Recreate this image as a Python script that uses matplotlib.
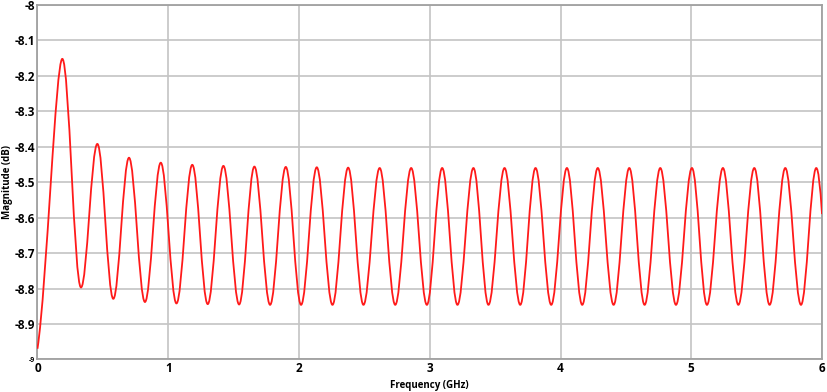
import matplotlib
matplotlib.use("Agg")
import matplotlib.pyplot as plt
from matplotlib.path import Path
from matplotlib.patches import PathPatch

plt.rcParams["font.family"] = ["Open Sans", "DejaVu Sans"]

# values (GHz, dB)
start_point = (0.0, -8.97)
end_point = (6.0, -8.59)

peak_freq = [0.190, 0.458, 0.700, 0.943, 1.184, 1.422, 1.659, 1.899, 2.136, 2.376,
             2.617, 2.858, 3.095, 3.334, 3.572, 3.809, 4.049, 4.285, 4.526, 4.763,
             5.005, 5.242, 5.482, 5.719, 5.956]
peak_db = [-8.152, -8.392, -8.431, -8.445, -8.451, -8.454, -8.456, -8.457, -8.458, -8.459,
           -8.460, -8.460, -8.460, -8.460, -8.460, -8.460, -8.460, -8.460, -8.460, -8.460,
           -8.460, -8.460, -8.460, -8.460, -8.460]

trough_freq = [0.333, 0.580, 0.822, 1.063, 1.302, 1.542, 1.779, 2.016, 2.256, 2.493,
               2.736, 2.978, 3.212, 3.449, 3.692, 3.929, 4.166, 4.406, 4.643, 4.883,
               5.120, 5.360, 5.599, 5.839]
trough_db = [-8.797, -8.829, -8.838, -8.842, -8.844, -8.845, -8.846, -8.846, -8.846, -8.846,
             -8.846, -8.846, -8.846, -8.846, -8.846, -8.846, -8.846, -8.846, -8.846, -8.846,
             -8.846, -8.846, -8.846, -8.846]

x_ticks = [0, 1, 2, 3, 4, 5, 6]
y_ticks = [-9, -8.9, -8.8, -8.7, -8.6, -8.5, -8.4, -8.3, -8.2, -8.1, -8]
y_labels = ["-9", "-8.9", "-8.8", "-8.7", "-8.6", "-8.5", "-8.4", "-8.3", "-8.2", "-8.1", "-8"]

# extrema in order: peak, trough, peak, ...
knots = []
for i in range(len(peak_freq)):
    knots.append((peak_freq[i], peak_db[i]))
    if i < len(trough_freq):
        knots.append((trough_freq[i], trough_db[i]))

# smooth path: horizontal tangents at every extremum
verts = [start_point]
codes = [Path.MOVETO]
x1, y1 = knots[0]
verts += [(0.07, -8.80), (x1 - 0.05, y1), (x1, y1)]
codes += [Path.CURVE4] * 3
k = 0.364
for (xa, ya), (xb, yb) in zip(knots[:-1], knots[1:]):
    d = (xb - xa) * k
    verts += [(xa + d, ya), (xb - d, yb), (xb, yb)]
    codes += [Path.CURVE4] * 3
xa, ya = knots[-1]
verts += [(xa + 0.5 * (end_point[0] - xa), ya), end_point]
codes += [Path.CURVE3] * 2

fig = plt.figure(figsize=(8.27, 3.92), dpi=100)
ax = fig.add_axes([0.0453, 0.0832, 0.9487, 0.904])

ax.add_patch(PathPatch(Path(verts, codes), fill=False, edgecolor="#ff1a1a", lw=1.3, zorder=3))

ax.set_xlim(0, 6)
ax.set_ylim(-9, -8)
ax.set_xticks(x_ticks)
ax.set_xticklabels([str(t) for t in x_ticks], fontweight="bold", fontsize=8.5)
ax.set_yticks(y_ticks)
ax.set_yticklabels(y_labels, fontweight="bold", fontsize=8.5)
ax.get_yticklabels()[0].set_fontsize(5)
ax.tick_params(length=0, pad=2)
ax.grid(True, color="#c4c4c4", lw=1.2)
ax.set_axisbelow(True)
for s in ax.spines.values():
    s.set_color("#a0a0a0")
    s.set_linewidth(1.3)

ax.set_xlabel("Frequency (GHz)", fontsize=7, fontweight="bold")
ax.xaxis.set_label_coords(0.5, -0.058)
ax.set_ylabel("Magnitude (dB)", fontsize=7, fontweight="bold")
ax.yaxis.set_label_coords(-0.031, 0.5)

fig.savefig("out.png", dpi=100)
